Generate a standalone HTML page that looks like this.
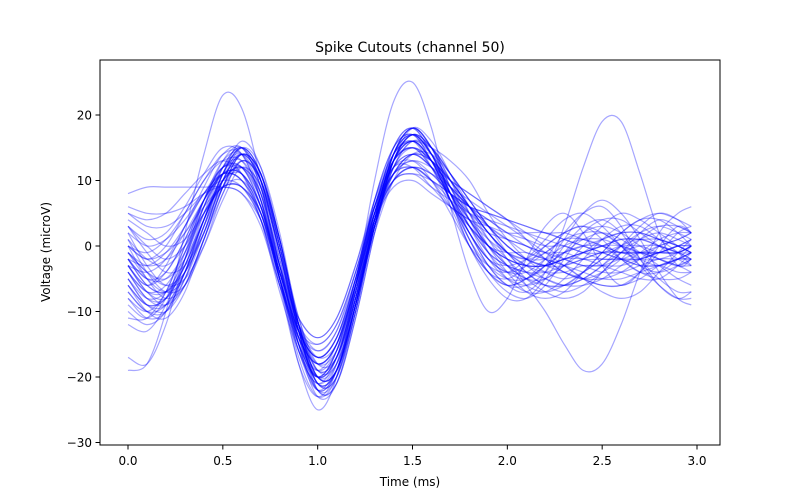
<!DOCTYPE html>
<html><head><meta charset="utf-8"><style>
body{margin:0;background:#fff;}
svg{display:block;font-family:"DejaVu Sans","Liberation Sans",sans-serif;}
</style></head><body>
<svg id="chart" width="800" height="500" viewBox="0 0 800 500">
<rect width="800" height="500" fill="#fff"/>
<text x="410" y="52" font-size="14" text-anchor="middle" fill="#000">Spike Cutouts (channel 50)</text>
<g id="traces"></g>
<rect x="100" y="60" width="620" height="385" fill="none" stroke="#000" stroke-width="1"/>
<g id="xticks"></g>
<g id="yticks"></g>
<text x="410" y="486" font-size="12" text-anchor="middle">Time (ms)</text>
<text transform="translate(50,252) rotate(-90)" font-size="12" text-anchor="middle">Voltage (microV)</text>
</svg>
<script>
const times=[0,0.1,0.2,0.3,0.4,0.5,0.6,0.7,0.8,0.9,1.0,1.1,1.2,1.3,1.4,1.5,1.6,1.7,1.8,1.9,2.0,2.1,2.2,2.3,2.4,2.5,2.6,2.7,2.8,2.9,2.97];
const xTicks=[0,0.5,1,1.5,2,2.5,3];
const xTickLabels=["0.0","0.5","1.0","1.5","2.0","2.5","3.0"];
const yTicks=[-30,-20,-10,0,10,20];
const yTickLabels=["\u221230","\u221220","\u221210","0","10","20"];
const traces=[
[-3,-6,-3,3,8,11,10,4,-6,-15,-19,-15,-5,6,12,12,9,6,4,2,1,0,-1,-1,-2,-2,-2,-1,-1,-1,0],
[-19,-18,-10,2,14,23,21,10,-5,-18,-25,-20,-6,10,22,25,18,6,-4,-10,-8,-2,3,5,2,-3,-6,-4,0,3,2],
[5,4,5,8,11,13,11,4,-7,-16,-20,-16,-6,5,11,12,10,8,6,4,2,1,0,0,-1,-1,0,0,-1,-1,0],
[-8,-10,-7,0,7,12,12,6,-5,-14,-18,-15,-6,4,10,12,10,7,3,0,-2,-3,-3,-2,-1,0,1,1,0,-1,-1],
[8,9,9,9,9,9,8,3,-6,-13,-15,-12,-4,6,14,16,15,13,10,5,1,-2,-4,-5,-4,-2,0,2,3,2,1],
[-17,-18,-12,-2,7,12,11,5,-5,-15,-20,-17,-7,4,11,14,13,10,6,2,-1,-3,-5,-6,-5,-3,-1,0,0,-1,-2],
[0,-2,0,5,10,14,14,7,-6,-18,-23,-19,-7,6,14,16,12,6,0,-4,-5,-3,0,2,3,2,0,-2,-3,-2,-1],
[-2,-5,-5,-1,5,10,11,6,-4,-13,-17,-14,-5,5,11,13,11,8,5,3,1,-1,-2,-3,-4,-5,-5,-4,-3,-2,-2],
[3,0,-2,0,5,9,9,5,-4,-13,-17,-14,-6,4,10,11,10,8,6,5,4,3,2,1,0,-1,-2,-3,-3,-2,-1],
[-6,-9,-8,-3,4,10,12,7,-5,-16,-21,-18,-8,4,11,14,12,8,4,0,-3,-5,-5,-3,0,3,5,4,2,0,-1],
[2,0,1,4,8,11,10,5,-4,-12,-15,-12,-4,5,10,11,9,7,5,4,3,2,1,0,-1,-2,-2,-3,-3,-4,-4],
[-10,-12,-10,-4,4,10,12,8,-3,-14,-20,-17,-7,5,13,16,13,8,3,-1,-3,-4,-4,-3,-2,-1,-1,-1,-2,-3,-3],
[-1,-3,-2,2,7,11,11,6,-4,-13,-17,-14,-5,6,13,15,13,9,6,3,1,0,-2,-4,-5,-4,-2,1,3,3,2],
[5,3,3,5,8,10,9,4,-5,-13,-16,-13,-5,4,9,10,8,6,4,3,2,2,2,1,0,-1,-2,-2,-1,0,1],
[-4,-7,-6,-1,6,12,14,9,-3,-15,-22,-19,-9,3,12,16,14,10,6,2,-1,-3,-4,-4,-3,-3,-2,-2,-1,-1,0],
[0,-1,1,5,10,13,13,7,-4,-14,-19,-16,-7,3,10,12,11,9,7,5,3,1,-1,-3,-5,-6,-6,-5,-3,-2,-1],
[-3,-4,-2,3,9,14,15,9,-4,-16,-22,-18,-6,7,15,17,13,7,2,-2,-4,-4,-2,0,1,1,0,-1,-1,0,1],
[-12,-13,-9,-2,6,11,11,6,-4,-13,-17,-14,-5,5,11,13,12,10,8,6,4,2,0,-2,-3,-4,-4,-3,-2,-2,-2],
[1,-2,-3,0,6,11,12,6,-5,-15,-20,-16,-5,7,14,16,13,9,5,1,-2,-5,-7,-8,-7,-4,-1,2,4,3,2],
[-5,-8,-7,-2,5,9,9,4,-6,-14,-18,-15,-6,4,10,12,11,8,6,5,4,3,2,2,1,0,-1,-1,-1,0,0],
[-2,-5,-4,1,7,11,11,5,-5,-15,-20,-16,-6,6,13,15,12,7,2,-3,-6,-7,-4,3,12,19,19,11,2,-3,-2],
[-3,-6,-4,1,7,11,10,5,-5,-14,-18,-15,-6,5,12,14,12,8,5,2,-2,-6,-10,-15,-19,-18,-12,-4,2,5,6],
[6,5,5,6,8,9,8,4,-4,-11,-14,-11,-3,7,13,15,13,10,6,2,-1,-4,-6,-6,-4,-1,2,4,5,4,3],
[-7,-10,-9,-4,3,9,12,9,-1,-12,-18,-16,-8,2,10,14,14,11,7,3,0,-2,-3,-2,-1,0,0,-1,-2,-3,-4],
[3,1,2,6,11,15,14,7,-5,-16,-21,-17,-6,7,15,17,13,7,1,-4,-7,-8,-6,-2,2,4,4,2,0,-2,-3],
[-1,-4,-5,-2,4,10,12,8,-2,-12,-17,-15,-7,3,11,14,13,10,8,6,4,1,-2,-4,-5,-5,-4,-2,0,1,2],
[4,2,0,1,5,9,10,6,-3,-12,-16,-13,-4,6,12,13,10,5,0,-3,-4,-2,1,4,5,3,0,-3,-4,-3,-2],
[-9,-11,-8,-1,7,13,14,8,-5,-17,-23,-20,-9,4,13,16,13,8,4,1,-1,-2,-2,-1,0,1,2,2,1,0,-1],
[-2,-3,-1,3,8,12,12,7,-3,-13,-18,-15,-6,5,12,14,12,9,6,4,2,0,-1,-2,-3,-3,-3,-2,-1,0,0],
[0,-2,-1,2,6,9,9,5,-3,-11,-14,-11,-3,6,11,12,10,6,3,0,-2,-3,-3,-2,-1,0,1,1,1,0,-1],
[-4,-8,-9,-5,3,11,16,12,1,-12,-20,-19,-10,3,13,17,15,10,4,-1,-4,-5,-3,1,5,7,5,1,-4,-8,-9],
[2,-3,-6,-5,0,7,12,9,-1,-12,-19,-17,-8,4,13,16,13,7,1,-3,-5,-5,-3,-1,1,2,1,-1,-3,-5,-6],
[-5,-9,-10,-6,1,8,13,10,0,-12,-19,-17,-8,4,14,18,15,8,1,-4,-6,-5,-2,2,5,6,3,-2,-6,-8,-7],
[-3,-7,-8,-4,3,10,14,10,-1,-13,-21,-19,-9,3,13,17,14,9,4,0,-3,-5,-6,-6,-5,-3,0,3,5,4,2],
[1,-4,-7,-6,0,8,13,10,0,-11,-18,-17,-8,3,12,16,15,11,6,1,-3,-6,-7,-6,-4,-2,0,1,0,-1,-2],
[-6,-10,-11,-7,1,9,14,11,1,-12,-21,-20,-10,3,14,18,15,9,3,-2,-5,-6,-5,-3,-1,1,2,2,1,0,-1],
[-2,-6,-7,-3,4,11,15,11,0,-13,-22,-21,-11,2,13,17,14,8,2,-2,-4,-3,-1,1,1,0,-2,-4,-5,-5,-4],
[-4,-8,-8,-3,5,12,15,10,-2,-15,-23,-21,-10,4,14,18,15,9,4,0,-2,-3,-3,-2,-2,-3,-4,-5,-5,-3,-1],
[0,-5,-8,-6,1,9,14,11,1,-12,-20,-19,-9,4,14,17,14,8,3,-1,-3,-4,-5,-6,-6,-5,-3,-1,1,2,2],
[-7,-10,-10,-5,3,11,15,11,0,-13,-21,-20,-10,3,13,17,15,11,7,3,-1,-4,-6,-7,-6,-4,-1,1,2,1,0],
[-3,-7,-9,-6,1,9,14,11,1,-12,-20,-19,-9,4,14,17,14,8,2,-3,-6,-6,-4,0,3,4,2,-2,-5,-7,-7],
[-1,-5,-7,-5,2,10,14,10,-1,-13,-21,-19,-8,5,15,18,14,8,3,0,-1,-1,-2,-3,-5,-7,-8,-7,-4,-1,1],
[-5,-9,-9,-4,4,11,14,10,-1,-13,-20,-18,-9,3,12,15,13,9,6,3,0,-2,-3,-3,-2,-1,-1,-2,-2,-1,0],
[3,-1,-4,-3,2,9,13,10,1,-11,-19,-18,-9,3,13,16,13,7,0,-5,-8,-8,-5,-1,2,3,2,0,-2,-3,-2],
[-8,-11,-10,-4,4,12,15,10,-1,-14,-22,-20,-9,4,14,17,14,10,6,2,-1,-2,-1,1,2,2,0,-3,-6,-8,-8],
[-2,-6,-7,-4,2,10,15,12,2,-12,-22,-21,-11,2,13,18,16,11,5,-1,-5,-7,-7,-5,-2,1,3,3,1,-1,-3],
[-11,-11,-7,0,7,12,13,8,-3,-14,-20,-17,-7,5,13,15,12,7,2,-2,-3,-2,0,2,3,1,-2,-4,-4,-2,0],
[-4,-7,-7,-3,4,11,15,11,0,-13,-21,-19,-9,4,14,18,15,10,5,0,-4,-7,-8,-7,-4,-1,2,4,4,2,0],
[-6,-9,-8,-2,6,13,15,9,-3,-15,-22,-19,-8,5,15,18,14,7,0,-4,-6,-5,-3,-1,0,0,-1,-1,0,1,2],
[-1,-4,-6,-4,2,10,14,11,1,-12,-20,-19,-9,3,13,17,15,11,7,3,0,-2,-3,-4,-5,-6,-6,-4,-1,2,3]
];
const NS="http://www.w3.org/2000/svg";
function xs(t){return 128+t*189.67;}
function ys(v){return 246-v*6.55;}
function smoothPath(pts){
  let d="M"+pts[0][0].toFixed(1)+","+pts[0][1].toFixed(1);
  for(let i=0;i<pts.length-1;i++){
    const p0=pts[Math.max(0,i-1)],p1=pts[i],p2=pts[i+1],p3=pts[Math.min(pts.length-1,i+2)];
    const c1x=p1[0]+(p2[0]-p0[0])/6,c1y=p1[1]+(p2[1]-p0[1])/6;
    const c2x=p2[0]-(p3[0]-p1[0])/6,c2y=p2[1]-(p3[1]-p1[1])/6;
    d+=" C"+c1x.toFixed(1)+","+c1y.toFixed(1)+" "+c2x.toFixed(1)+","+c2y.toFixed(1)+" "+p2[0].toFixed(1)+","+p2[1].toFixed(1);
  }
  return d;
}
const g=document.getElementById("traces");
traces.forEach((tr,k)=>{
  const pts=tr.map((v,i)=>[xs(times[i]),ys(v)]);
  const p=document.createElementNS(NS,"path");
  p.setAttribute("d",smoothPath(pts));
  p.setAttribute("fill","none");
  p.setAttribute("stroke","rgba(0,0,255,0.35)");
  p.setAttribute("stroke-width","1.2");
  
  
  g.appendChild(p);
});
const gx=document.getElementById("xticks");
xTicks.forEach((t,i)=>{
  const x=xs(t);
  const l=document.createElementNS(NS,"line");
  l.setAttribute("x1",x);l.setAttribute("x2",x);l.setAttribute("y1",445);l.setAttribute("y2",449.5);
  l.setAttribute("stroke","#000");
  
  
  gx.appendChild(l);
  const tx=document.createElementNS(NS,"text");
  tx.setAttribute("x",x);tx.setAttribute("y",465);tx.setAttribute("font-size","12");tx.setAttribute("text-anchor","middle");
  tx.textContent=xTickLabels[i];
  
  
  gx.appendChild(tx);
});
const gy=document.getElementById("yticks");
yTicks.forEach((v,i)=>{
  const y=ys(v);
  const l=document.createElementNS(NS,"line");
  l.setAttribute("x1",95.5);l.setAttribute("x2",100);l.setAttribute("y1",y);l.setAttribute("y2",y);
  l.setAttribute("stroke","#000");
  
  
  gy.appendChild(l);
  const tx=document.createElementNS(NS,"text");
  tx.setAttribute("x",92);tx.setAttribute("y",y+4.5);tx.setAttribute("font-size","12");tx.setAttribute("text-anchor","end");
  tx.textContent=yTickLabels[i];
  
  
  gy.appendChild(tx);
});
</script>
</body></html>
